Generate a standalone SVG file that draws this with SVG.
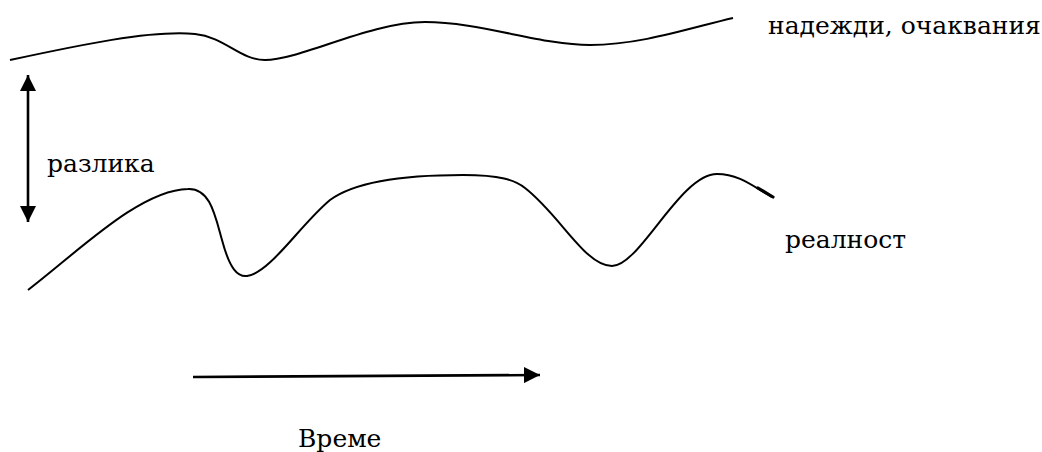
<svg xmlns="http://www.w3.org/2000/svg" width="1042" height="452" viewBox="0 0 1042 452">
<style>
.curve{fill:none;stroke:#000;stroke-width:2}
.conn{fill:none;stroke:#000;stroke-width:2.6}
.lbl{font-family:'DejaVu Serif','Liberation Serif',serif;font-size:25px;fill:#000}
</style>
<defs>
<marker id="ah" viewBox="0 0 16 16" refX="16" refY="8" markerWidth="16" markerHeight="16" orient="auto-start-reverse" markerUnits="userSpaceOnUse">
<path d="M0,0 L16,8 L0,16 Z" fill="#000"/>
</marker>
</defs>
<rect width="1042" height="452" fill="#fff"/>
<g id="expectations">
<path class="curve" d="M10,60 C80,45 150,30 195,34 C225,37 240,60 265,60 C300,60 370,22 425,22 C480,22 540,45 590,45 C640,45 690,28 733,18"/>
<text class="lbl" x="768" y="34">надежди, очаквания</text>
</g>
<g id="reality">
<path class="curve" d="M28,290 C80,250 140,190 188,189 C210,188 215,215 222,240 C230,270 238,277 247,276 C270,273 300,225 330,200 C360,178 420,175 463,175 C500,175 515,180 525,188 C560,215 585,266 612,266 C640,266 680,174 717,174 C740,174 755,188 772,197"/>
<path d="M758,188 L773,197" stroke="#000" stroke-width="3.2" fill="none" stroke-linecap="round"/>
<text class="lbl" x="785" y="248">реалност</text>
</g>
<g id="difference">
<text class="lbl" x="47" y="172">разлика</text>
</g>
<g id="time">
<text class="lbl" x="298" y="447">Време</text>
</g>
<g id="connectors">
<line class="conn" x1="28" y1="75" x2="28" y2="222" marker-start="url(#ah)" marker-end="url(#ah)"/>
<line class="conn" x1="193" y1="377" x2="540" y2="375" marker-end="url(#ah)"/>
</g>
</svg>
